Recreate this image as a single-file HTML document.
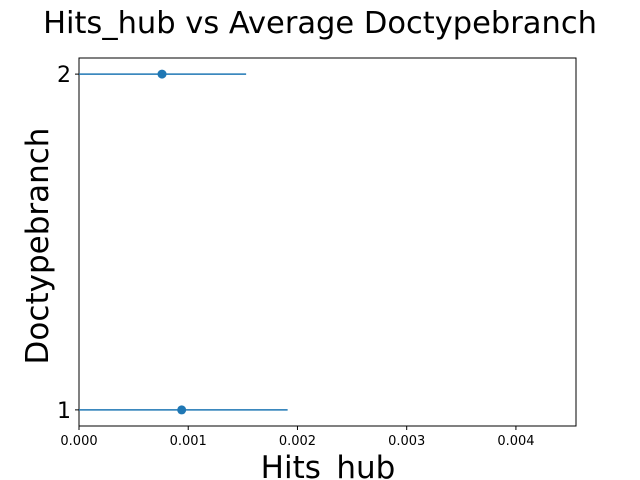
<!DOCTYPE html>
<html><head><meta charset="utf-8"><style>
body{margin:0;background:#fff;}
svg{display:block;font-family:"DejaVu Sans","Liberation Sans",sans-serif;}
</style></head><body>
<svg id="chart" width="640" height="480">
<text x="320" y="33" text-anchor="middle" font-size="30.5">Hits_hub vs Average Doctypebranch</text>
<rect x="79" y="58" width="497" height="368" fill="none" stroke="#000" stroke-width="1"/>
<g id="marks"></g>
<g id="xticks"></g>
<g id="yticks"></g>
<text x="328" y="478" text-anchor="middle" font-size="31">Hits_hub</text>
<text transform="translate(48,246) rotate(-90)" text-anchor="middle" font-size="31">Doctypebranch</text>
</svg>
<script>
const categories = [1, 2];
const means = [0.00094, 0.00076];
const errs = [0.00097, 0.00077];
const xTicks = [0, 0.001, 0.002, 0.003, 0.004];
const xTickLabels = ["0.000", "0.001", "0.002", "0.003", "0.004"];
const yTicks = [1, 2];

const X0=79, X1=576, Y0=426, Y1=58;
const xMin=0, xMax=0.00455, yMin=0.952, yMax=2.048;
const sx = v => X0 + (v - xMin) / (xMax - xMin) * (X1 - X0);
const sy = v => Y0 - (v - yMin) / (yMax - yMin) * (Y0 - Y1);
const NS = "http://www.w3.org/2000/svg";
const clampX = v => Math.max(X0, Math.min(X1, v));

const marks = document.getElementById('marks');
categories.forEach((c, i) => {
  const l = document.createElementNS(NS, 'line');
  l.setAttribute('x1', clampX(sx(means[i] - errs[i])));
  l.setAttribute('x2', clampX(sx(means[i] + errs[i])));
  l.setAttribute('y1', sy(c)); l.setAttribute('y2', sy(c));
  l.setAttribute('stroke', '#1f77b4'); l.setAttribute('stroke-width', '1.5');
  
  
  marks.appendChild(l);
  const p = document.createElementNS(NS, 'circle');
  p.setAttribute('cx', sx(means[i])); p.setAttribute('cy', sy(c)); p.setAttribute('r', 4.5);
  p.setAttribute('fill', '#1f77b4');
  
  
  marks.appendChild(p);
});

const xg = document.getElementById('xticks');
xTicks.forEach((t, i) => {
  const x = sx(t);
  const l = document.createElementNS(NS, 'line');
  l.setAttribute('x1', x); l.setAttribute('x2', x); l.setAttribute('y1', Y0); l.setAttribute('y2', Y0 + 4);
  l.setAttribute('stroke', '#000');
  
  
  xg.appendChild(l);
  const tx = document.createElementNS(NS, 'text');
  tx.setAttribute('x', x); tx.setAttribute('y', Y0 + 19); tx.setAttribute('text-anchor', 'middle'); tx.setAttribute('font-size', '13');
  tx.textContent = xTickLabels[i];
  
  
  xg.appendChild(tx);
});
const yg = document.getElementById('yticks');
yTicks.forEach(t => {
  const y = sy(t);
  const l = document.createElementNS(NS, 'line');
  l.setAttribute('x1', X0 - 4); l.setAttribute('x2', X0); l.setAttribute('y1', y); l.setAttribute('y2', y);
  l.setAttribute('stroke', '#000');
  
  
  yg.appendChild(l);
  const tx = document.createElementNS(NS, 'text');
  tx.setAttribute('x', X0 - 8); tx.setAttribute('y', y + 8); tx.setAttribute('text-anchor', 'end'); tx.setAttribute('font-size', '22');
  tx.textContent = t;
  
  
  yg.appendChild(tx);
});
</script>
</body></html>
